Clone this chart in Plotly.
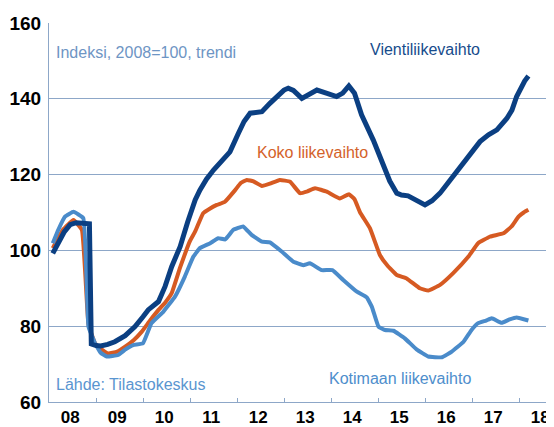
import plotly.graph_objects as go

# Vientiliikevaihto (export turnover)
vienti_t = [2008.08, 2008.20, 2008.32, 2008.45, 2008.58, 2008.86, 2008.90, 2009.00, 2009.10, 2009.25,
            2009.40, 2009.62, 2009.83, 2010.00, 2010.11, 2010.33, 2010.47, 2010.61, 2010.79, 2010.95,
            2011.11, 2011.21, 2011.35, 2011.50, 2011.70, 2011.85, 2012.03, 2012.15, 2012.28, 2012.45,
            2012.53, 2012.70, 2012.84, 2013.00, 2013.09, 2013.20, 2013.38, 2013.55, 2013.70, 2013.90,
            2014.12, 2014.25, 2014.38, 2014.50, 2014.65, 2014.90, 2015.11, 2015.25, 2015.40, 2015.50,
            2015.64, 2015.82, 2016.00, 2016.15, 2016.32, 2016.50, 2016.64, 2016.89, 2017.05, 2017.17,
            2017.35, 2017.53, 2017.74, 2017.85, 2017.95, 2018.05, 2018.12, 2018.20]
vienti_v = [99.2, 102.0, 104.8, 106.8, 107.3, 107.0, 75.3, 74.9, 74.8, 75.2,
            75.9, 77.5, 79.9, 82.5, 84.3, 86.5, 90.5, 95.7, 101.0, 107.5,
            113.3, 115.9, 118.8, 121.2, 124.0, 126.0, 130.9, 134.0, 136.2, 136.3,
            136.6, 138.8, 140.6, 142.3, 142.8, 142.2, 140.1, 141.2, 142.3, 141.5,
            140.6, 141.5, 143.4, 141.5, 135.8, 129.1, 122.1, 118.3, 115.1, 114.6,
            114.4, 113.3, 112.0, 113.1, 115.1, 118.0, 120.3, 123.9, 126.5, 128.7,
            130.5, 131.8, 134.8, 137.0, 140.6, 143.2, 144.7, 146.0]

# Koko liikevaihto (total turnover)
koko_t = [2008.08, 2008.30, 2008.52, 2008.70, 2008.84, 2008.98, 2009.10, 2009.26, 2009.45, 2009.62,
          2009.80, 2009.97, 2010.15, 2010.33, 2010.47, 2010.61, 2010.79, 2011.00, 2011.11, 2011.28,
          2011.42, 2011.57, 2011.74, 2011.96, 2012.08, 2012.21, 2012.35, 2012.53, 2012.70, 2012.91,
          2013.13, 2013.34, 2013.50, 2013.66, 2013.91, 2014.19, 2014.38, 2014.50, 2014.62, 2014.83,
          2015.04, 2015.20, 2015.40, 2015.61, 2015.89, 2016.07, 2016.32, 2016.60, 2016.92, 2017.13,
          2017.38, 2017.67, 2017.84, 2017.99, 2018.10, 2018.20]
koko_v = [100.6, 105.5, 108.0, 105.4, 80.5, 75.5, 74.0, 72.8, 73.3, 74.6,
          76.3, 78.5, 81.5, 84.3, 86.2, 88.7, 95.5, 102.5, 105.0, 109.8,
          111.0, 112.0, 112.8, 115.9, 117.8, 118.6, 118.2, 117.0, 117.6, 118.6,
          118.1, 115.1, 115.6, 116.4, 115.5, 113.7, 114.8, 113.5, 110.0, 105.8,
          98.8, 96.0, 93.5, 92.6, 90.0, 89.4, 90.9, 94.0, 98.3, 101.9,
          103.6, 104.5, 106.3, 108.9, 110.0, 110.7]

# Kotimaan liikevaihto (domestic turnover)
koti_t = [2008.08, 2008.20, 2008.34, 2008.52, 2008.73, 2008.84, 2008.98, 2009.10, 2009.23, 2009.47,
          2009.62, 2009.79, 2010.00, 2010.18, 2010.43, 2010.68, 2010.89, 2011.07, 2011.21, 2011.43,
          2011.60, 2011.75, 2011.92, 2012.13, 2012.31, 2012.53, 2012.70, 2012.95, 2013.20, 2013.41,
          2013.55, 2013.80, 2014.03, 2014.26, 2014.55, 2014.76, 2014.87, 2015.01, 2015.15, 2015.33,
          2015.57, 2015.82, 2016.07, 2016.36, 2016.57, 2016.82, 2016.99, 2017.13, 2017.30, 2017.42,
          2017.63, 2017.80, 2017.95, 2018.20]
koti_v = [101.9, 105.5, 108.9, 110.2, 108.5, 79.9, 75.5, 73.0, 72.0, 72.4,
          73.8, 75.0, 75.5, 80.8, 83.8, 87.8, 93.1, 98.3, 100.6, 101.9,
          103.2, 102.9, 105.4, 106.3, 104.1, 102.3, 102.1, 99.7, 97.0, 96.1,
          96.6, 94.8, 94.8, 92.2, 89.1, 87.6, 85.1, 79.9, 79.0, 78.8,
          76.8, 73.9, 72.0, 71.8, 73.3, 75.9, 79.0, 80.8, 81.5, 82.1,
          80.9, 81.8, 82.3, 81.5]

year_labels = ["08", "09", "10", "11", "12", "13", "14", "15", "16", "17", "18"]
year_starts = list(range(2008, 2019))
y_ticks = [60, 80, 100, 120, 140, 160]

C_VIENTI = "#0B3F82"
C_KOKO = "#D65A22"
C_KOTI = "#4A8BCA"
AXIS_C = "#8DA7C8"

fig = go.Figure()
fig.add_trace(go.Scatter(x=koko_t, y=koko_v, mode="lines",
                         line=dict(color=C_KOKO, width=4, shape="spline", smoothing=0.3)))
fig.add_trace(go.Scatter(x=koti_t, y=koti_v, mode="lines",
                         line=dict(color=C_KOTI, width=4, shape="spline", smoothing=0.3)))
fig.add_trace(go.Scatter(x=vienti_t, y=vienti_v, mode="lines",
                         line=dict(color=C_VIENTI, width=5, shape="linear")))

ann_font = "Liberation Sans, Arial, sans-serif"
anns = [
    dict(x=2008.1, y=152.2, text="Indeksi, 2008=100, trendi", color="#6E95C4", xanchor="left"),
    dict(x=2016.0, y=153.1, text="Vientiliikevaihto", color="#174C8C", xanchor="center"),
    dict(x=2013.6, y=125.9, text="Koko liikevaihto", color="#D4622A", xanchor="center"),
    dict(x=2015.47, y=66.3, text="Kotimaan liikevaihto", color="#4E8ECC", xanchor="center"),
    dict(x=2008.1, y=64.7, text="Lähde: Tilastokeskus", color="#5A95D0", xanchor="left"),
]
for a in anns:
    fig.add_annotation(x=a["x"], y=a["y"], text=a["text"], showarrow=False,
                       xanchor=a["xanchor"], yanchor="middle",
                       font=dict(family=ann_font, size=16, color=a["color"]))

# The page body has an 8px margin, so the figure is sized/margined to compensate.
fig.update_layout(
    width=546, height=419,
    margin=dict(l=41, r=0, t=15, b=25),
    paper_bgcolor="white", plot_bgcolor="white",
    showlegend=False,
    xaxis=dict(
        range=[2008, 2008 + 505 / 47],
        automargin=False,
        tickmode="array",
        tickvals=[y + 0.45 for y in year_starts],
        ticktext=year_labels,
        ticks="",
        showgrid=False, zeroline=False,
        showline=True, linecolor=AXIS_C, linewidth=1,
        tickfont=dict(family=ann_font, size=17, color="black", weight="bold"),
        ticklabelstandoff=0,
        minor=dict(tickmode="array", tickvals=year_starts[1:], ticks="inside",
                   ticklen=4, tickcolor=AXIS_C, showgrid=False),
    ),
    yaxis=dict(
        range=[60, 160],
        automargin=False,
        tickmode="array", tickvals=y_ticks,
        ticks="",
        showgrid=True, gridcolor=AXIS_C, gridwidth=1,
        zeroline=False,
        showline=True, linecolor=AXIS_C, linewidth=1,
        tickfont=dict(family=ann_font, size=19, color="black", weight="bold"),
        ticklabelstandoff=3,
    ),
)

fig.write_html("out.html")
